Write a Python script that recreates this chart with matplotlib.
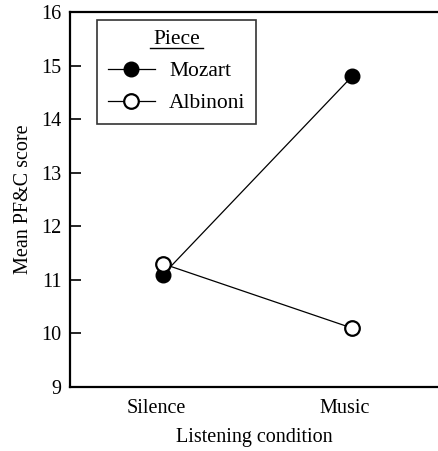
import numpy as np
import matplotlib.pyplot as plt
import matplotlib.transforms as mtransforms

plt.rcParams['font.family'] = ['Liberation Serif', 'DejaVu Serif']

conditions = ["Silence", "Music"]
mozart = [11.1, 14.8]
albinoni = [11.3, 10.1]

fig = plt.figure(figsize=(4.38, 4.51), dpi=100)
ax = fig.add_axes([0.160, 0.142, 0.840, 0.831])

x = np.arange(len(conditions))
ax.plot(x, mozart, color="black", lw=0.9, marker="o", ms=10.5,
        mfc="black", mec="black", label="Mozart")
ax.plot(x, albinoni, color="black", lw=0.9, marker="o", ms=10.5,
        mfc="white", mec="black", mew=1.6, label="Albinoni")

ax.set_xlim(-0.492, 1.455)
ax.set_ylim(9, 16)
ax.set_yticks(range(9, 17))
ax.set_xticks(x)
ax.set_xticklabels(conditions)
ax.tick_params(axis="y", direction="in", length=8, width=1.2, labelsize=14.5, pad=6)
ax.tick_params(axis="x", length=0, labelsize=14.5, pad=9)

# labels sit a little left of the points in the original
shift = mtransforms.ScaledTranslation(-7 / 100, 0, fig.dpi_scale_trans)
for lab in ax.get_xticklabels():
    lab.set_transform(lab.get_transform() + shift)

for s in ["left", "bottom", "top"]:
    ax.spines[s].set_linewidth(1.6)
ax.spines["right"].set_visible(False)

ax.set_xlabel("Listening condition", fontsize=14.5, labelpad=7)
ax.set_ylabel("Mean PF&C score", fontsize=14.5, labelpad=6)

leg = ax.legend(loc="upper left", bbox_to_anchor=(0.073, 0.98), title="Piece",
                fontsize=15.5, title_fontsize=15.5, frameon=True, fancybox=False,
                handlelength=2.2, borderpad=0.5, labelspacing=0.55,
                handletextpad=0.65, borderaxespad=0)
leg.get_frame().set_edgecolor("black")
leg.get_frame().set_linewidth(1.2)

# underline the legend title
fig.canvas.draw()
bb = leg.get_title().get_window_extent().transformed(fig.transFigure.inverted())
uy = bb.y0 + 0.003
fig.add_artist(plt.Line2D([bb.x0 - 0.008, bb.x1 + 0.008], [uy, uy],
                          color="black", lw=1.0, transform=fig.transFigure))

fig.savefig("out.png", dpi=100)
